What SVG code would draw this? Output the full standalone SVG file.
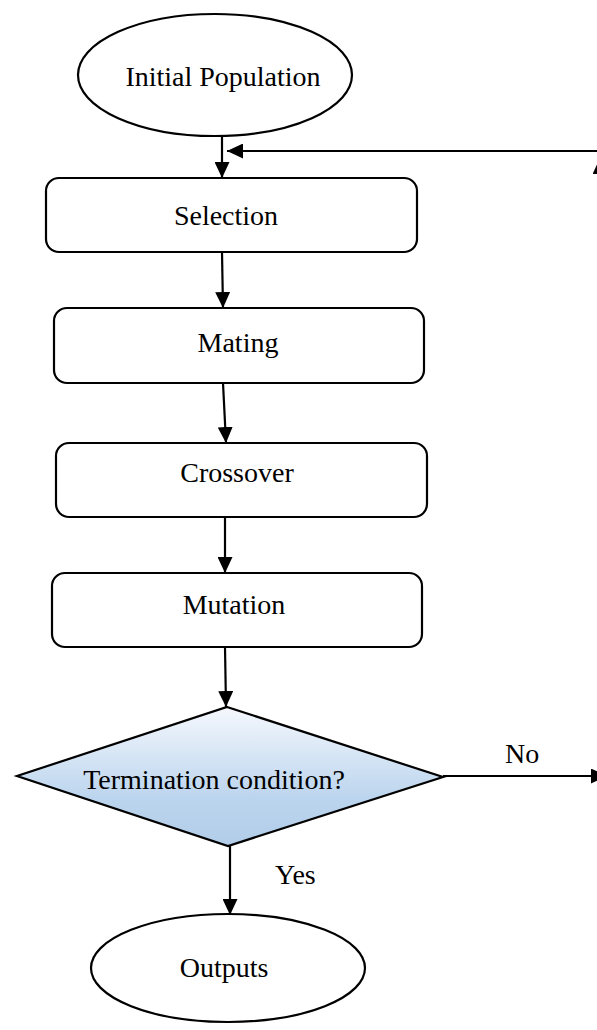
<svg xmlns="http://www.w3.org/2000/svg" width="597" height="1030" viewBox="0 0 597 1030">
  <style>
    .shape { fill: #ffffff; stroke: #000000; stroke-width: 2.2; }
    .lbl { font-family: "Liberation Serif", "Times New Roman", serif; font-size: 28px; fill: #000000; }
    .mid { text-anchor: middle; }
    .conn { fill: none; stroke: #000000; stroke-width: 2.2; }
  </style>
  <defs>
    <marker id="arrow" viewBox="0 0 16 15" refX="16" refY="7.5" markerWidth="16" markerHeight="15" markerUnits="userSpaceOnUse" orient="auto">
      <path d="M0,0 L16,7.5 L0,15 z" fill="#000000"/>
    </marker>
    <linearGradient id="diamondFill" x1="0" y1="0" x2="0" y2="1">
      <stop offset="0" stop-color="#f5f8fd"/>
      <stop offset="0.65" stop-color="#bcd5ee"/>
      <stop offset="1" stop-color="#b2cde9"/>
    </linearGradient>
  </defs>

  <g id="node-initial">
    <ellipse class="shape" cx="215" cy="75" rx="137" ry="61"/>
    <text class="lbl mid" x="223" y="86">Initial Population</text>
  </g>
  <g id="node-selection">
    <rect class="shape" x="46" y="178" width="371" height="74" rx="13"/>
    <text class="lbl mid" x="226" y="225">Selection</text>
  </g>
  <g id="node-mating">
    <rect class="shape" x="54" y="308" width="370" height="75" rx="13"/>
    <text class="lbl mid" x="238" y="352">Mating</text>
  </g>
  <g id="node-crossover">
    <rect class="shape" x="56" y="443" width="371" height="74" rx="13"/>
    <text class="lbl mid" x="237" y="482">Crossover</text>
  </g>
  <g id="node-mutation">
    <rect class="shape" x="52" y="573" width="370" height="74" rx="13"/>
    <text class="lbl mid" x="234" y="614">Mutation</text>
  </g>
  <g id="node-termination">
    <polygon points="227,707 443,777 228,846 17,776" fill="url(#diamondFill)" stroke="#000000" stroke-width="2.2"/>
    <text class="lbl mid" x="214" y="789">Termination condition?</text>
  </g>
  <g id="node-outputs">
    <ellipse class="shape" cx="228" cy="968" rx="137" ry="54"/>
    <text class="lbl mid" x="224" y="977">Outputs</text>
  </g>

  <g id="connectors">
    <line class="conn" x1="222" y1="136" x2="222" y2="178" marker-end="url(#arrow)"/>
    <line class="conn" x1="222" y1="252" x2="223" y2="308" marker-end="url(#arrow)"/>
    <line class="conn" x1="223" y1="383" x2="226" y2="443" marker-end="url(#arrow)"/>
    <line class="conn" x1="225" y1="517" x2="225" y2="573" marker-end="url(#arrow)"/>
    <line class="conn" x1="225" y1="647" x2="226" y2="707" marker-end="url(#arrow)"/>
    <line class="conn" x1="230" y1="846" x2="230" y2="915" marker-end="url(#arrow)"/>
    <line class="conn" x1="443" y1="776" x2="607" y2="776" marker-end="url(#arrow)"/>
    <line class="conn" x1="600" y1="776" x2="600" y2="158" marker-end="url(#arrow)"/>
    <line class="conn" x1="605" y1="151" x2="227" y2="151" marker-end="url(#arrow)"/>
    <text class="lbl" x="505" y="763">No</text>
    <text class="lbl" x="275" y="884">Yes</text>
  </g>
</svg>
